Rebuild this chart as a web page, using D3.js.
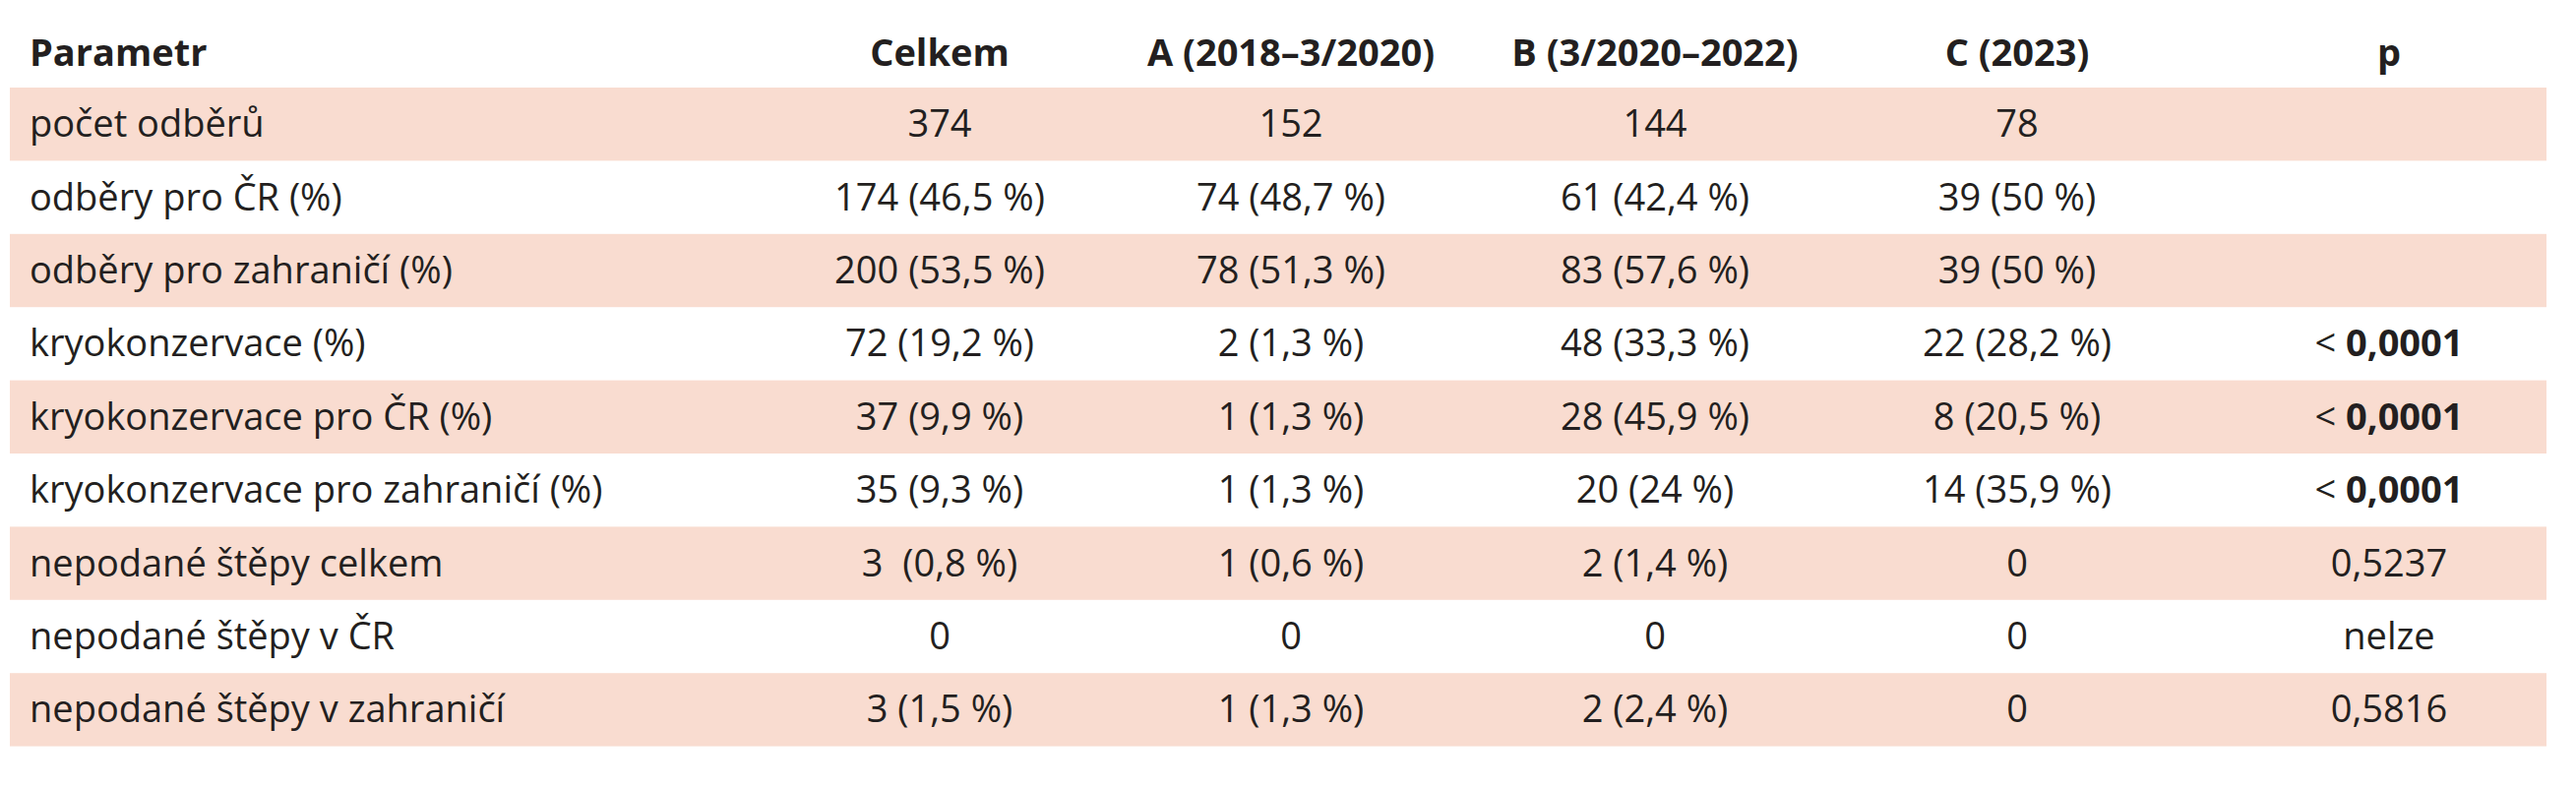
<!DOCTYPE html>
<html>
<head>
<meta charset="utf-8">
<script src="https://cdn.jsdelivr.net/npm/d3@7"></script>
<style>
  body { margin: 0; background: #fff; }
  text { font-family: "Open Sans", "Noto Sans", sans-serif; fill: #231f20; }
</style>
</head>
<body>
<svg id="chart"></svg>
<script>
// column headers
var columns = ['Parametr', 'Celkem', 'A (2018–3/2020)', 'B (3/2020–2022)', 'C (2023)', 'p'];

// row labels
var parameters = [
	'počet odběrů',
	'odběry pro ČR (%)',
	'odběry pro zahraničí (%)',
	'kryokonzervace (%)',
	'kryokonzervace pro ČR (%)',
	'kryokonzervace pro zahraničí (%)',
	'nepodané štěpy celkem',
	'nepodané štěpy v ČR',
	'nepodané štěpy v zahraničí'
];

var celkem = ['374', '174 (46,5 %)', '200 (53,5 %)', '72 (19,2 %)', '37 (9,9 %)', '35 (9,3 %)', '3  (0,8 %)', '0', '3 (1,5 %)'];
var groupA = ['152', '74 (48,7 %)', '78 (51,3 %)', '2 (1,3 %)', '1 (1,3 %)', '1 (1,3 %)', '1 (0,6 %)', '0', '1 (1,3 %)'];
var groupB = ['144', '61 (42,4 %)', '83 (57,6 %)', '48 (33,3 %)', '28 (45,9 %)', '20 (24 %)', '2 (1,4 %)', '0', '2 (2,4 %)'];
var groupC = ['78', '39 (50 %)', '39 (50 %)', '22 (28,2 %)', '8 (20,5 %)', '14 (35,9 %)', '0', '0', '0'];
var pValues = ['', '', '', '< 0,0001', '< 0,0001', '< 0,0001', '0,5237', 'nelze', '0,5816'];

var width = 2618, height = 800;
var svg = d3.select('#chart').attr('width', width).attr('height', height);

var tableTop = 89, rowH = 74.4, left = 10, right = 2588;
var fontSize = 38;
var y = d3.scaleBand().domain(d3.range(parameters.length))
	.range([tableTop, tableTop + rowH * parameters.length]);
var x = d3.scaleOrdinal().domain(columns)
	.range([30, 955, 1312, 1682, 2050, 2428]);

// stripes
svg.selectAll('rect.band')
	.data(d3.range(parameters.length).filter(function(i) { return i % 2 === 0; }))
	.enter().append('rect')
		.attr('class', 'band')
		.attr('x', left)
		.attr('y', function(i) { return y(i); })
		.attr('width', right - left)
		.attr('height', y.bandwidth())
		.attr('fill', '#f9dcd0');

// header
svg.selectAll('text.head')
	.data(columns)
	.enter().append('text')
		.attr('class', 'head')
		.attr('x', function(d) { return x(d); })
		.attr('y', 67)
		.attr('text-anchor', function(d, i) { return i === 0 ? 'start' : 'middle'; })
		.attr('font-weight', 'bold')
		.attr('font-size', fontSize)
		.text(function(d) { return d; });

var series = [parameters, celkem, groupA, groupB, groupC, pValues];

series.forEach(function(vals, c) {
	svg.selectAll('text.c' + c)
		.data(vals)
		.enter().append('text')
			.attr('class', 'c' + c)
			.attr('x', x(columns[c]))
			.attr('y', function(d, i) { return y(i) + y.bandwidth() / 2 + 13; })
			.attr('text-anchor', c === 0 ? 'start' : 'middle')
			.attr('font-size', fontSize)
			.style('white-space', 'pre')
			.each(function(d) {
				var t = d3.select(this);
				if (c === 5 && d.indexOf('<') === 0) {
					t.append('tspan').text('< ');
					t.append('tspan').attr('font-weight', 'bold').text(d.slice(2));
				} else {
					t.text(d);
				}
			});
});
</script>
</body>
</html>
